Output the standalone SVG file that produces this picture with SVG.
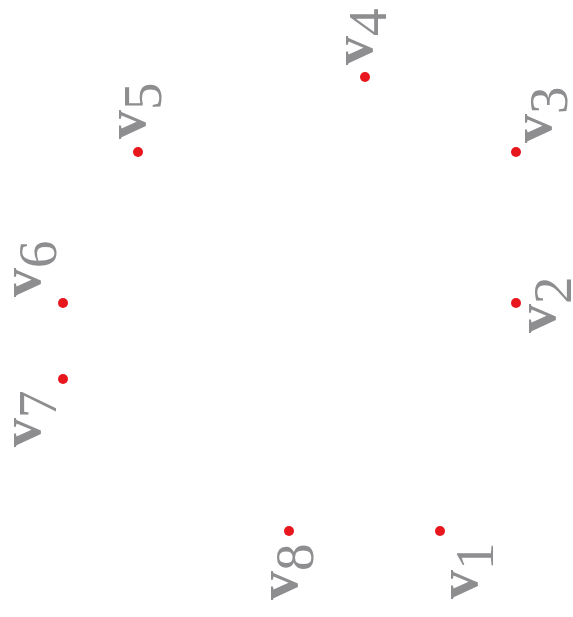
<svg xmlns="http://www.w3.org/2000/svg" width="573" height="617" viewBox="0 0 573 617">
<style>
.lbl{font-family:"Liberation Serif","Times New Roman",serif;fill:#8e8e91}
.v{font-weight:bold;font-size:58px}
.n{font-size:55px}
.dot{fill:#e8161d}
</style>
<rect width="573" height="617" fill="#fff"/>
<g id="connectors"></g>
<g id="v1"><circle class="dot" cx="440" cy="531" r="5"/><text class="lbl" transform="translate(477,599) rotate(-90)"><tspan class="v">v</tspan><tspan class="n" dy="16">1</tspan></text></g>
<g id="v2"><circle class="dot" cx="516" cy="303" r="5"/><text class="lbl" transform="translate(555,333) rotate(-90)"><tspan class="v">v</tspan><tspan class="n" dy="16">2</tspan></text></g>
<g id="v3"><circle class="dot" cx="516" cy="152" r="5"/><text class="lbl" transform="translate(551,143) rotate(-90)"><tspan class="v">v</tspan><tspan class="n" dy="16">3</tspan></text></g>
<g id="v4"><circle class="dot" cx="365" cy="77" r="5"/><text class="lbl" transform="translate(372,65) rotate(-90)"><tspan class="v">v</tspan><tspan class="n" dy="14">4</tspan></text></g>
<g id="v5"><circle class="dot" cx="138" cy="152" r="5"/><text class="lbl" transform="translate(145,139) rotate(-90)"><tspan class="v">v</tspan><tspan class="n" dy="16">5</tspan></text></g>
<g id="v6"><circle class="dot" cx="63" cy="303" r="5"/><text class="lbl" transform="translate(40,297) rotate(-90)"><tspan class="v">v</tspan><tspan class="n" dy="16">6</tspan></text></g>
<g id="v7"><circle class="dot" cx="63" cy="379" r="5"/><text class="lbl" transform="translate(40,447) rotate(-90)"><tspan class="v">v</tspan><tspan class="n" dy="16">7</tspan></text></g>
<g id="v8"><circle class="dot" cx="289" cy="531" r="5"/><text class="lbl" transform="translate(297,600) rotate(-90)"><tspan class="v">v</tspan><tspan class="n" dy="16">8</tspan></text></g>
</svg>
